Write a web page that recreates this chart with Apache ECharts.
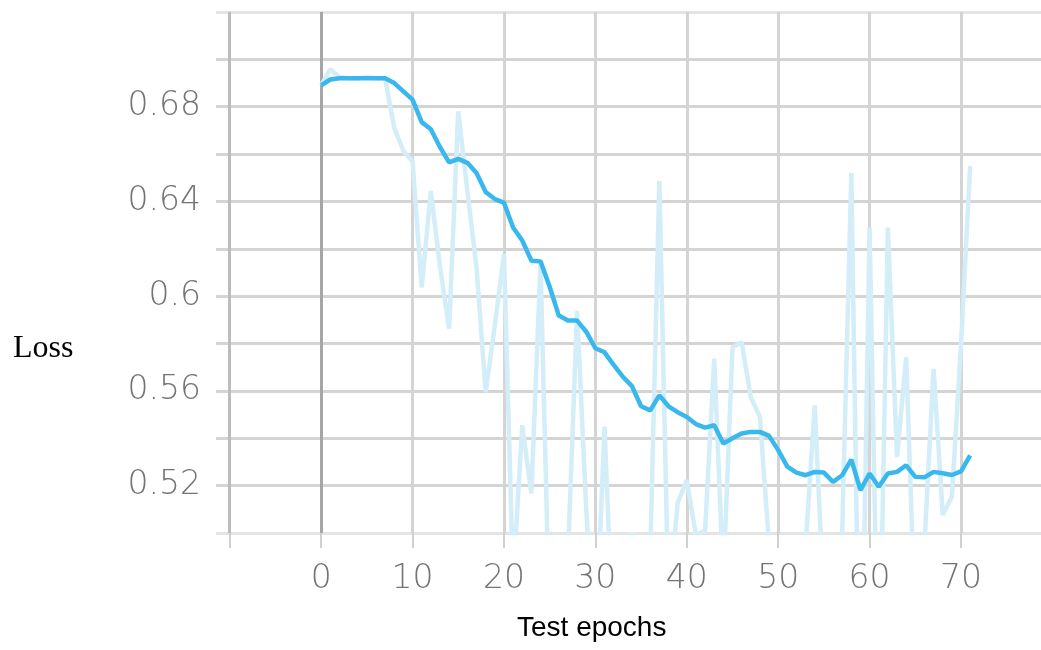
<!DOCTYPE html>
<html>
<head>
<meta charset="utf-8">
<script src="https://cdn.jsdelivr.net/npm/echarts@6/dist/echarts.min.js"></script>
<style>
  html, body { margin: 0; padding: 0; background: #fff; }
  #loss-chart { width: 1041px; height: 650px; }
</style>
</head>
<body>
<div id="loss-chart"></div>
<script>
// epochs 0..71
var epochs = [];
for (var i = 0; i < 72; i++) epochs.push(i);

// raw test loss (faint line), values under 0.5 are cut off by the axis
var rawLoss = [
  0.689, 0.6958, 0.6925, 0.692, 0.692, 0.6925, 0.692, 0.692, 0.6711, 0.6613,
  0.657, 0.6037, 0.6444, 0.6127, 0.5862, 0.6781, 0.6444, 0.6121, 0.5595, 0.5876,
  0.6178, 0.48, 0.5455, 0.5167, 0.6135, 0.46, 0.44, 0.49, 0.5938, 0.51,
  0.45, 0.5448, 0.45, 0.47, 0.50, 0.46, 0.49, 0.6486, 0.47, 0.5126,
  0.5223, 0.499, 0.501, 0.5736, 0.48, 0.5784, 0.5806, 0.5574, 0.549, 0.495,
  0.45, 0.44, 0.46, 0.495, 0.5539, 0.47, 0.47, 0.50, 0.652, 0.40,
  0.629, 0.42, 0.629, 0.5321, 0.5742, 0.46, 0.495, 0.5693, 0.5076, 0.5153,
  0.5796, 0.655
];

// smoothed test loss (bold line)
var smoothLoss = [
  0.689, 0.6915, 0.692, 0.692, 0.692, 0.692, 0.692, 0.692, 0.690, 0.6865,
  0.683, 0.6735, 0.6705, 0.663, 0.6565, 0.658, 0.6563, 0.652, 0.644, 0.641,
  0.6395, 0.629, 0.6235, 0.615, 0.6147, 0.604, 0.5918, 0.5897, 0.5897, 0.585,
  0.578, 0.5763, 0.571, 0.566, 0.562, 0.5535, 0.5518, 0.5581, 0.5535, 0.551,
  0.549, 0.546, 0.5445, 0.5455, 0.5378, 0.540, 0.542, 0.5427, 0.5427, 0.541,
  0.535, 0.528, 0.5255, 0.5244, 0.5258, 0.5255, 0.5216, 0.5244, 0.531, 0.5181,
  0.5251, 0.5195, 0.5251, 0.5258, 0.5286, 0.5237, 0.5235, 0.5258, 0.5252, 0.5245,
  0.526, 0.5328
];

var xTicks = [-10, 0, 10, 20, 30, 40, 50, 60, 70];
var xLabels = [0, 10, 20, 30, 40, 50, 60, 70];
var yLabels = [0.52, 0.56, 0.6, 0.64, 0.68];

function pairs(ys) {
  return epochs.map(function (e, k) { return [e, ys[k]]; });
}

var myChart = echarts.init(document.getElementById('loss-chart'));
var option = {
  animation: false,
  grid: { left: 216, right: 0, top: 12, bottom: 117 },
  xAxis: {
    type: 'value',
    min: -11.5,
    max: 78.75,
    axisLine: { show: false },
    axisTick: {
      show: true,
      customValues: xTicks,
      length: 15,
      lineStyle: { color: '#d0d0d0', width: 2 }
    },
    axisLabel: {
      customValues: xLabels,
      margin: 30,
      color: '#747474',
      fontFamily: 'DejaVu Sans',
      fontWeight: 200,
      fontSize: 33
    },
    splitLine: {
      show: true,
      lineStyle: {
        color: ['#bcbcbc', '#a6a6a6', '#d4d4d4', '#d4d4d4', '#d4d4d4', '#d4d4d4', '#d4d4d4', '#d4d4d4', '#d4d4d4'],
        width: 3
      }
    }
  },
  yAxis: {
    type: 'value',
    min: 0.5,
    max: 0.72,
    interval: 0.02,
    axisLine: { show: false },
    axisTick: { show: false },
    axisLabel: {
      customValues: yLabels,
      margin: 15,
      color: '#747474',
      fontFamily: 'DejaVu Sans',
      fontWeight: 200,
      fontSize: 33
    },
    splitLine: {
      show: true,
      lineStyle: {
        color: ['#e4e4e4', '#d4d4d4', '#d4d4d4', '#d4d4d4', '#d4d4d4', '#d4d4d4',
                '#d4d4d4', '#d4d4d4', '#d4d4d4', '#d4d4d4', '#d4d4d4', '#e4e4e4'],
        width: 3
      }
    }
  },
  graphic: [
    {
      type: 'text', left: 13, top: 333,
      style: { text: 'Loss', font: '32px "Liberation Serif"', fill: '#000' }
    },
    {
      type: 'text', left: 517, top: 614,
      style: { text: 'Test epochs', font: '28px "Liberation Sans"', fill: '#000' }
    }
  ],
  series: [
    {
      name: 'raw',
      type: 'line',
      data: pairs(rawLoss),
      symbol: 'none',
      lineStyle: { color: '#d3edf9', width: 4.5 },
      z: 2
    },
    {
      name: 'smoothed',
      type: 'line',
      data: pairs(smoothLoss),
      symbol: 'none',
      lineStyle: { color: '#38b8ec', width: 4.5 },
      z: 3
    }
  ]
};
myChart.setOption(option, true);
</script>
</body>
</html>
